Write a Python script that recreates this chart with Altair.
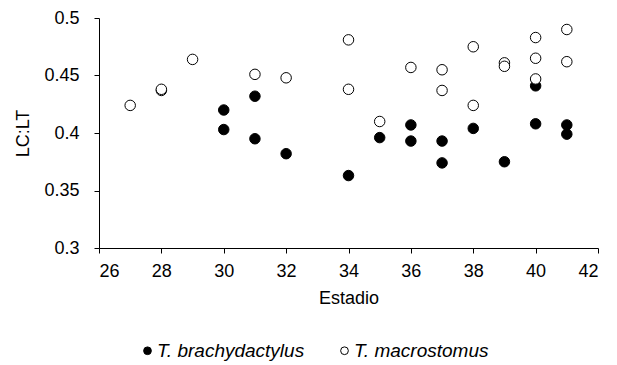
import altair as alt
import pandas as pd

# T. brachydactylus (filled circles)
brachy_x = [30, 30, 31, 31, 32, 34, 35, 36, 36, 37, 37, 38, 39, 40, 40, 41, 41]
brachy_y = [0.420, 0.403, 0.432, 0.395, 0.382, 0.363, 0.396, 0.407, 0.393,
            0.393, 0.374, 0.404, 0.375, 0.441, 0.408, 0.407, 0.399]

# T. macrostomus (open circles)
macro_x = [27, 28, 28, 29, 31, 32, 34, 34, 35, 36, 37, 37, 38, 38, 39, 39, 40, 40, 40, 41, 41]
macro_y = [0.424, 0.437, 0.438, 0.464, 0.451, 0.448, 0.481, 0.438, 0.410, 0.457,
           0.455, 0.437, 0.475, 0.424, 0.461, 0.458, 0.483, 0.465, 0.447, 0.490, 0.462]

species = ["T. brachydactylus", "T. macrostomus"]
x_ticks = [26, 28, 30, 32, 34, 36, 38, 40, 42]
y_ticks = [0.3, 0.35, 0.4, 0.45, 0.5]

df = pd.concat([
    pd.DataFrame({"Estadio": brachy_x, "LCLT": brachy_y, "species": species[0]}),
    pd.DataFrame({"Estadio": macro_x, "LCLT": macro_y, "species": species[1]}),
], ignore_index=True)

FONT = "Liberation Sans"
FS = 18

chart = alt.Chart(df).mark_point(
    filled=True, stroke="black", strokeWidth=1, size=110, opacity=1, shape="circle"
).encode(
    x=alt.X("Estadio:Q",
            scale=alt.Scale(domain=[26, 42], nice=False, zero=False),
            axis=alt.Axis(title="Estadio", values=x_ticks, format="~g",
                          labelPadding=9, titlePadding=9)),
    y=alt.Y("LCLT:Q",
            scale=alt.Scale(domain=[0.3, 0.5], nice=False, zero=False),
            axis=alt.Axis(title="LC:LT", values=y_ticks, format="~g",
                          labelPadding=15, titlePadding=11)),
    fill=alt.Fill("species:N",
                  scale=alt.Scale(domain=species, range=["black", "white"]),
                  legend=alt.Legend(title=None, orient="none", legendX=39, legendY=323,
                                    direction="horizontal", labelFontStyle="italic",
                                    labelFontSize=19, labelFont=FONT, labelColor="black",
                                    symbolType="circle", symbolSize=60,
                                    symbolStrokeColor="black", symbolStrokeWidth=1,
                                    labelOffset=0, columnPadding=30, labelLimit=300)),
).properties(
    width=499, height=230,
    autosize=alt.AutoSizeParams(type="none"),
    padding={"left": 91, "top": 10, "right": 11, "bottom": 115},
).configure_view(
    stroke=None
).configure_axis(
    grid=False, domainColor="black", tickColor="black", tickSize=5,
    labelFont=FONT, labelFontSize=FS, labelColor="black",
    titleFont=FONT, titleFontSize=FS, titleFontWeight="normal", titleColor="black",
    domainWidth=1, tickWidth=1,
)

chart.save("out.html", embed_options={"renderer": "svg", "actions": False})
